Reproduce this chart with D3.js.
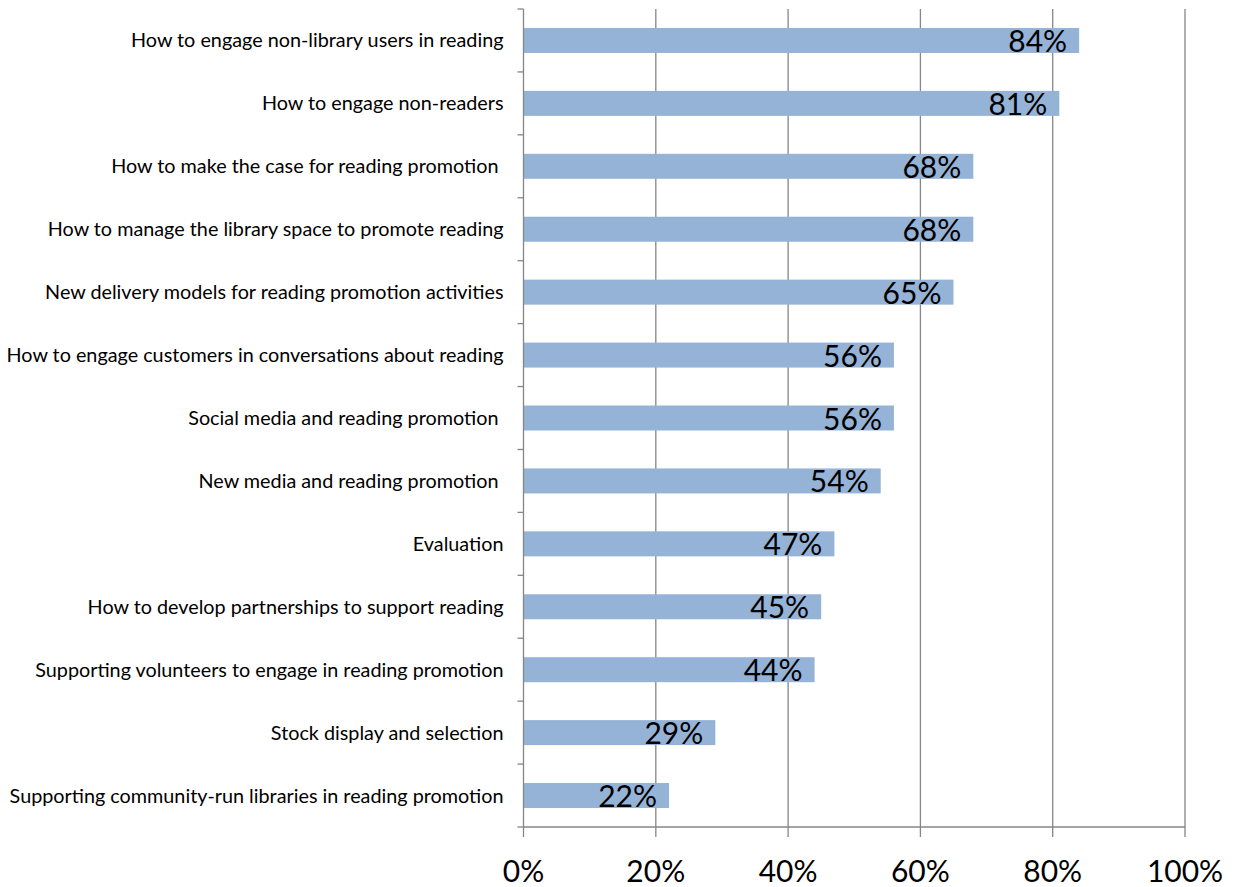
<!DOCTYPE html>
<html>
<head>
<meta charset="utf-8">
<script src="https://cdn.jsdelivr.net/npm/d3@7"></script>
<style>
  html, body { margin: 0; padding: 0; background: #fff; }
  svg text { font-family: Lato, "Open Sans", sans-serif; fill: #000; white-space: pre; }
</style>
</head>
<body>
<svg id="chart" width="1234" height="887"></svg>
<script>
// Training topics and the share of respondents wanting each one
const categories = [
  "How to engage non-library users in reading",
  "How to engage non-readers",
  "How to make the case for reading promotion ",
  "How to manage the library space to promote reading",
  "New delivery models for reading promotion activities",
  "How to engage customers in conversations about reading",
  "Social media and reading promotion ",
  "New media and reading promotion ",
  "Evaluation",
  "How to develop partnerships to support reading",
  "Supporting volunteers to engage in reading promotion",
  "Stock display and selection",
  "Supporting community-run libraries in reading promotion"
];
const values = [0.84, 0.81, 0.68, 0.68, 0.65, 0.56, 0.56, 0.54, 0.47, 0.45, 0.44, 0.29, 0.22];
const tickValues = [0, 0.2, 0.4, 0.6, 0.8, 1.0];

const svg = d3.select("#chart");
const plotLeft = 523.5, plotRight = 1185, plotTop = 9, plotBottom = 827;

const x = d3.scaleLinear().domain([0, 1]).range([plotLeft, plotRight]);
const band = d3.scaleBand().domain(categories).range([plotTop, plotBottom]);
const barH = 25;
const pct = d3.format(".0%");

// vertical gridlines
svg.append("g").selectAll("line").data(tickValues.slice(1)).join("line")
  .attr("x1", d => x(d)).attr("x2", d => x(d))
  .attr("y1", plotTop).attr("y2", plotBottom)
  .attr("stroke", "#868686").attr("stroke-width", 1.3);

// bars
svg.append("g").selectAll("rect").data(values).join("rect")
  .attr("x", x(0))
  .attr("y", (d, i) => band(categories[i]) + band.bandwidth() / 2 - barH / 2)
  .attr("width", d => x(d) - x(0))
  .attr("height", barH)
  .attr("fill", "#95B3D7");

// category axis
const yAxis = svg.append("g").attr("transform", `translate(${plotLeft},0)`);
yAxis.append("line").attr("x1", 0).attr("x2", 0).attr("y1", plotTop).attr("y2", plotBottom)
  .attr("stroke", "#868686").attr("stroke-width", 1.3);
yAxis.selectAll("line.t").data(d3.range(categories.length + 1)).join("line").attr("class", "t")
  .attr("x1", -6).attr("x2", 0)
  .attr("y1", i => plotTop + i * band.bandwidth()).attr("y2", i => plotTop + i * band.bandwidth())
  .attr("stroke", "#868686").attr("stroke-width", 1.3);
yAxis.selectAll("text").data(categories).join("text")
  .attr("x", -20)
  .attr("y", d => band(d) + band.bandwidth() / 2 + 7)
  .attr("text-anchor", "end")
  .attr("font-size", 19.8)
  .text(d => d);

// value axis
const xAxis = svg.append("g").attr("transform", `translate(0,${plotBottom})`);
xAxis.append("line").attr("x1", plotLeft).attr("x2", plotRight).attr("y1", 0).attr("y2", 0)
  .attr("stroke", "#868686").attr("stroke-width", 1.3);
xAxis.selectAll("line.t").data(tickValues).join("line").attr("class", "t")
  .attr("x1", d => x(d)).attr("x2", d => x(d)).attr("y1", 0).attr("y2", 10)
  .attr("stroke", "#868686").attr("stroke-width", 1.3);
xAxis.selectAll("text").data(tickValues).join("text")
  .attr("x", d => x(d)).attr("y", 54.5)
  .attr("text-anchor", "middle")
  .attr("font-size", 30)
  .text(d => pct(d));

// value labels inside bar ends
svg.append("g").selectAll("text").data(values).join("text")
  .attr("x", d => x(d) - 12)
  .attr("y", (d, i) => band(categories[i]) + band.bandwidth() / 2 + 11.5)
  .attr("text-anchor", "end")
  .attr("font-size", 30)
  .text(d => pct(d));
</script>
</body>
</html>
